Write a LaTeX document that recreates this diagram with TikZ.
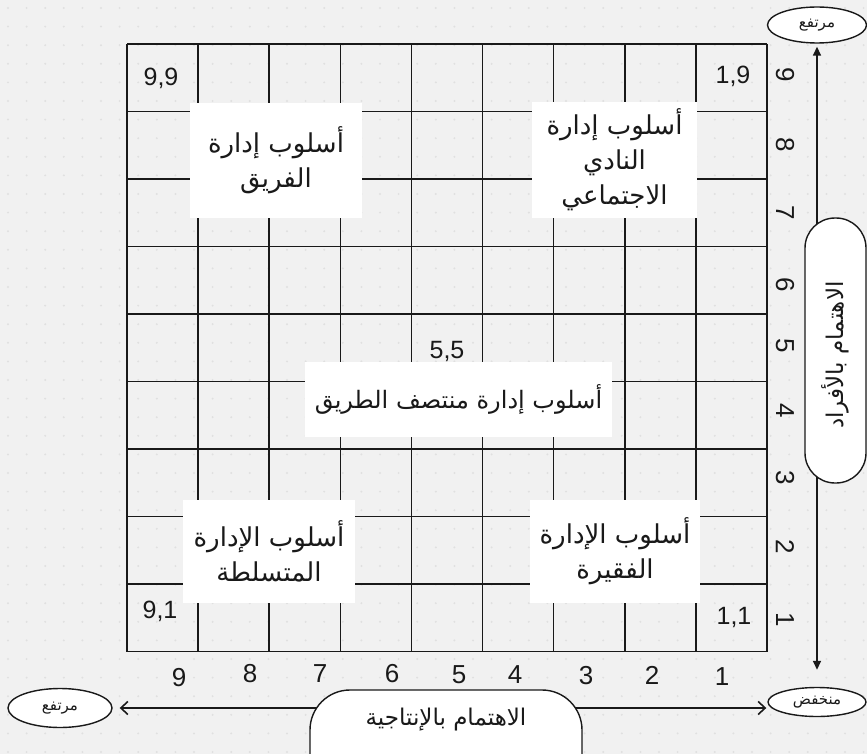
\documentclass[tikz,border=0pt]{standalone}
\usepackage{fontspec}
\setmainfont{Liberation Sans}
\newfontfamily\arabicfont[Script=Arabic]{DejaVu Sans}
\TeXXeTstate=1
\usetikzlibrary{arrows.meta,shapes.geometric}
\newcommand{\artxt}[1]{{\arabicfont\beginR #1\endR}}
\definecolor{bgcol}{RGB}{241,241,241}
\definecolor{dotcol}{RGB}{224,224,224}
\definecolor{inkcol}{RGB}{25,25,25}
\begin{document}
\begin{tikzpicture}[x=1pt,y=-1pt,
  gridline/.style={draw=inkcol,line width=1.6pt},
  celltxt/.style={font=\fontsize{25}{28}\selectfont,text=inkcol,inner sep=0pt},
  axnum/.style={font=\fontsize{26}{28}\selectfont,text=inkcol,inner sep=0pt},
  wbox/.style={fill=white,draw=none,inner sep=0pt,align=center,
    font=\fontsize{26}{35}\selectfont,text=inkcol},
  lbox/.style={fill=white,draw=inkcol,line width=1.4pt},
  labtxt/.style={font=\fontsize{23}{26}\selectfont,text=inkcol,inner sep=0pt},
  endell/.style={ellipse,fill=white,draw=inkcol,line width=1.4pt,inner sep=0pt,
    font=\fontsize{15}{17}\selectfont,text=inkcol},
  harrow/.style={draw=inkcol,line width=1.6pt,{Straight Barb[length=7pt,width=13pt]}-{Straight Barb[length=7pt,width=13pt]}},
  varrow/.style={draw=inkcol,line width=1.6pt,{Triangle[length=9pt,width=8pt]}-{Triangle[length=9pt,width=8pt]}}
]
\useasboundingbox (0,0) rectangle (867,754);
\clip (0,0) rectangle (867,754);
% background
\fill[bgcol] (0,0) rectangle (867,754);
\foreach \i in {0,...,46}{\foreach \j in {0,...,40}{\fill[dotcol] (8+\i*18.6,8+\j*18.6) circle (1.1);}}
% grid
\foreach \k in {0,...,9}{
  \draw[gridline] (127+\k*71.11,44) -- (127+\k*71.11,651.5);
  \draw[gridline] (127,44+\k*67.5) -- (767,44+\k*67.5);
}
% corner labels
\node[celltxt] (c99) at (161,78) {9,9};
\node[celltxt] (c19) at (733,76) {1,9};
\node[celltxt] (c91) at (160,611) {9,1};
\node[celltxt] (c11) at (734,617) {1,1};
\node[celltxt] (c55) at (447,351) {5,5};
% style boxes
\node[wbox,minimum width=172,minimum height=115] (team) at (276,160.5)
  {\artxt{أسلوب إدارة}\\\artxt{الفريق}};
\node[wbox,minimum width=165,minimum height=116] (club) at (614.5,160)
  {\artxt{أسلوب إدارة}\\\artxt{النادي}\\\artxt{الاجتماعي}};
\node[wbox,minimum width=307,minimum height=75,font=\fontsize{24}{30}\selectfont] (mid) at (458.5,399.5)
  {\artxt{أسلوب إدارة منتصف الطريق}};
\node[wbox,minimum width=172,minimum height=103] (auth) at (269,551.5)
  {\artxt{أسلوب الإدارة}\\\artxt{المتسلطة}};
\node[wbox,minimum width=170,minimum height=103] (poor) at (615,551.5)
  {\artxt{أسلوب الإدارة}\\\artxt{الفقيرة}};
% bottom axis numbers
\node[axnum] (b9) at (179,678) {9};
\node[axnum] (b8) at (250,674) {8};
\node[axnum] (b7) at (320,674) {7};
\node[axnum] (b6) at (392,674) {6};
\node[axnum] (b5) at (459,675) {5};
\node[axnum] (b4) at (515,675) {4};
\node[axnum] (b3) at (586,676) {3};
\node[axnum] (b2) at (652,675) {2};
\node[axnum] (b1) at (722,677) {1};
% right axis numbers
\node[axnum,rotate=-90] (r9) at (785,75) {9};
\node[axnum,rotate=-90] (r8) at (785,145) {8};
\node[axnum,rotate=-90] (r7) at (785,213) {7};
\node[axnum,rotate=-90] (r6) at (785,285) {6};
\node[axnum,rotate=-90] (r5) at (785,346) {5};
\node[axnum,rotate=-90] (r4) at (785,411) {4};
\node[axnum,rotate=-90] (r3) at (785,478) {3};
\node[axnum,rotate=-90] (r2) at (785,547) {2};
\node[axnum,rotate=-90] (r1) at (785,620) {1};
% end ellipses
\node[endell,minimum width=99,minimum height=36] (topE) at (817,25) {\artxt{مرتفع}};
\node[endell,minimum width=98,minimum height=29] (lowE) at (817,702) {\artxt{منخفض}};
\node[endell,minimum width=104,minimum height=39] (highL) at (60,708) {\artxt{مرتفع}};
% axis arrows
\draw[varrow,shorten <=3pt,shorten >=17pt] (topE.south) -- (lowE.north);
\draw[harrow,shorten <=7pt,shorten >=1pt] (highL.east) -- (lowE.west |- highL.east);
% axis label boxes
\node[lbox,rounded corners=40,minimum width=272,minimum height=110] (hbox) at (446,745) {};
\node[labtxt] (hlab) at (446,720) {\artxt{الاهتمام بالإنتاجية}};
\node[lbox,rounded corners=30,minimum width=61,minimum height=265] (vbox) at (835.5,350.5) {};
\node[labtxt,rotate=90] (vlab) at (835,355) {\artxt{الاهتمام بالأفراد}};
\end{tikzpicture}
\end{document}
